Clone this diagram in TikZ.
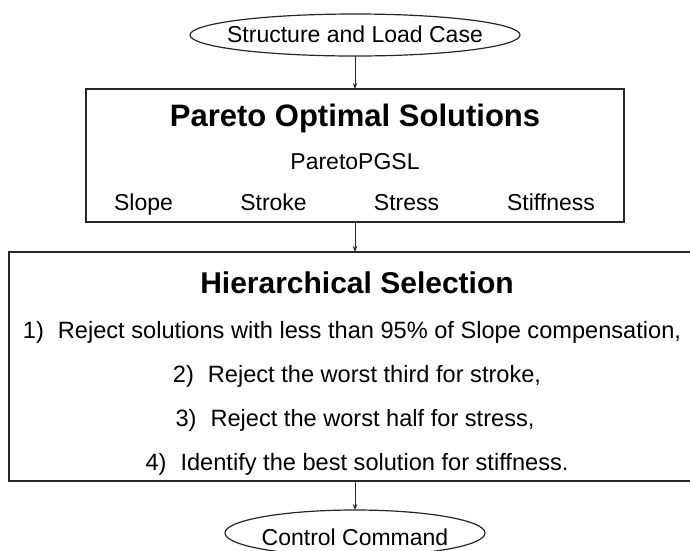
\documentclass[tikz,border=0pt]{standalone}
\usepackage{fontspec}
\setmainfont{Liberation Sans}
\usetikzlibrary{arrows.meta,shapes.geometric}
\begin{document}
\begin{tikzpicture}[x=1pt,y=-1pt,
  every node/.style={inner sep=0pt,outer sep=0pt},
  outline/.style={draw=black!85,line width=1.2pt},
  terminal/.style={outline,ellipse},
  stagebox/.style={outline,rectangle},
  txt/.style={anchor=base,font=\fontsize{23}{27}\selectfont},
  rule/.style={anchor=base,font=\fontsize{23.6}{28}\selectfont},
  ttl/.style={anchor=base,font=\fontsize{31}{36}\selectfont\bfseries},
  flow/.style={draw=black!85,line width=1pt,-{Stealth[length=6pt,width=4.5pt]}}
]
\useasboundingbox (0,0) rectangle (690,550);

% start and end terminals
\node[terminal,minimum width=330pt,minimum height=42pt] (start) at (355,35) {};
\node[txt] (startlbl) at (355,42) {Structure and Load Case};

\node[terminal,minimum width=260pt,minimum height=46pt] (stop) at (355,533) {};
\node[txt] (stoplbl) at (355,545) {Control Command};

% first stage: Pareto optimal solutions
\node[stagebox,minimum width=538pt,minimum height=133pt] (pareto) at (355,155.5) {};
\node[ttl] (paretottl) at (355,126) {Pareto Optimal Solutions};
\node[txt] (pgsl) at (355,169.5) {ParetoPGSL};
\node[txt] (slope) at (143.5,210.5) {Slope};
\node[txt] (stroke) at (273.5,210.5) {Stroke};
\node[txt] (stress) at (406.5,210.5) {Stress};
\node[txt] (stiff) at (551,210.5) {Stiffness};

% second stage: hierarchical selection
\node[stagebox,minimum width=692pt,minimum height=229pt] (hier) at (355,366.5) {};
\node[ttl,font=\fontsize{30}{35}\selectfont\bfseries] (hierttl) at (357,293) {Hierarchical Selection};
\node[rule] (rule1) at (352,338) {1)\hspace{14pt}Reject solutions with less than 95\% of Slope compensation,};
\node[rule] (rule2) at (357,382) {2)\hspace{14pt}Reject the worst third for stroke,};
\node[rule] (rule3) at (355,426) {3)\hspace{14pt}Reject the worst half for stress,};
\node[rule] (rule4) at (357,470) {4)\hspace{14pt}Identify the best solution for stiffness.};

% connectors
\draw[flow] (start) -- (pareto);
\draw[flow] (pareto) -- (hier);
\draw[flow] (hier) -- (stop);
\end{tikzpicture}
\end{document}
